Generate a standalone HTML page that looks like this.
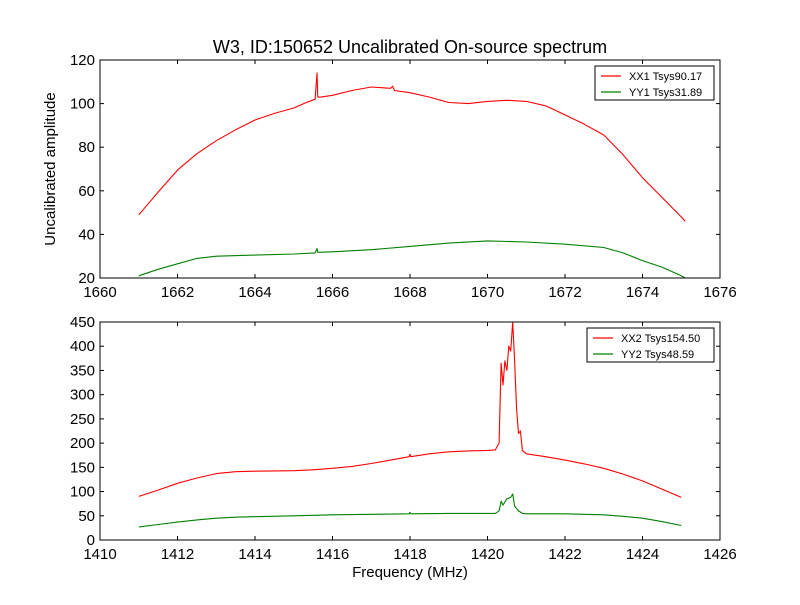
<!DOCTYPE html>
<html><head><meta charset="utf-8"><style>
body{margin:0;background:#fff}
svg{font-family:"Liberation Sans","DejaVu Sans",sans-serif}
</style></head><body>
<svg id="c" width="800" height="600" viewBox="0 0 800 600" xmlns="http://www.w3.org/2000/svg">
<rect width="800" height="600" fill="#fff"/>
<text x="410" y="53" text-anchor="middle" font-size="18">W3, ID:150652 Uncalibrated On-source spectrum</text>
<text x="0" y="0" transform="translate(55,169) rotate(-90)" text-anchor="middle" font-size="15">Uncalibrated amplitude</text>
<text x="410" y="577" text-anchor="middle" font-size="15">Frequency (MHz)</text>
</svg>
<script>
const topXX1x=[1661,1661.5,1662,1662.5,1663,1663.5,1664,1664.5,1665,1665.3,1665.55,1665.6,1665.62,1665.7,1666,1666.5,1667,1667.5,1667.55,1667.6,1668,1668.5,1669,1669.5,1670,1670.5,1671,1671.5,1672,1672.5,1673,1673.5,1674,1674.5,1675,1675.1];
const topXX1y=[49,59.4,69.5,77,83,88,92.5,95.5,98,100.3,102,114,103,103,103.8,106,107.6,107,108,106,105,103,100.5,100,101,101.5,101,99,94.8,90.5,85.6,76.5,66,57,48,46];
const topYY1x=[1661,1661.5,1662,1662.5,1663,1664,1665,1665.55,1665.6,1665.62,1666,1667,1668,1669,1670,1671,1672,1673,1673.5,1674,1674.5,1675,1675.1];
const topYY1y=[21,24,26.5,29,30,30.5,31,31.5,33.5,31.8,32,33,34.5,36,37,36.5,35.5,34,31.5,28,25,21,20];
const botXX2x=[1411,1411.5,1412,1412.5,1413,1413.5,1414,1415,1415.5,1416,1416.5,1417,1417.5,1417.98,1418,1418.02,1418.5,1419,1419.5,1420,1420.2,1420.3,1420.35,1420.4,1420.45,1420.5,1420.55,1420.6,1420.65,1420.7,1420.75,1420.8,1420.85,1420.9,1421,1421.5,1422,1422.5,1423,1423.5,1424,1424.5,1425];
const botXX2y=[90,103,117,128,137,141,142,143,145,148,152,158,165,172,177,172,178,182,184,185,186,200,365,320,370,350,400,390,450,370,270,220,225,185,178,172,165,157,148,136,122,105,88];
const botYY2x=[1411,1411.5,1412,1412.5,1413,1413.5,1414,1415,1416,1417,1417.98,1418,1418.02,1419,1420.2,1420.3,1420.35,1420.4,1420.5,1420.6,1420.65,1420.7,1420.8,1420.9,1421,1422,1423,1423.5,1424,1424.5,1425];
const botYY2y=[27,32,37,41.5,45,47,48,50,52,53,54,57,54,55,55,60,80,72,85,88,95,70,60,55,54,54,52,49,45,38,30];
const topXTicks=[1660,1662,1664,1666,1668,1670,1672,1674,1676];
const topYTicks=[20,40,60,80,100,120];
const botXTicks=[1410,1412,1414,1416,1418,1420,1422,1424,1426];
const botYTicks=[0,50,100,150,200,250,300,350,400,450];
const topLegend=["XX1 Tsys90.17","YY1 Tsys31.89"];
const botLegend=["XX2 Tsys154.50","YY2 Tsys48.59"];

const svg=document.getElementById('c');
const NS="http://www.w3.org/2000/svg";
function mk(tag,attrs,parent){const e=document.createElementNS(NS,tag);for(const k in attrs)e.setAttribute(k,attrs[k]);(parent||svg).appendChild(e);return e;}

function panel(name,top,xmin,xmax,ymin,ymax,xt,yt,series,legend,legW){
  const L=100,R=720,T=top,B=top+218;
  const g=mk('g',{});
  
  
  const sx=v=>L+(v-xmin)/(xmax-xmin)*(R-L);
  const sy=v=>B-(v-ymin)/(ymax-ymin)*(B-T);
  const clip=mk('clipPath',{id:'cl'+name},g);
  mk('rect',{x:L,y:T,width:R-L,height:B-T},clip);
  series.forEach(s=>{
    const d=s.x.map((v,i)=>(i?'L':'M')+sx(v).toFixed(1)+','+sy(s.y[i]).toFixed(1)).join('');
    const p=mk('path',{d:d,fill:'none',stroke:s.c,'stroke-width':1.1,'stroke-linejoin':'round','clip-path':'url(#cl'+name+')'},g);
    
    
  });
  const fr=mk('rect',{x:L,y:T,width:R-L,height:B-T,fill:'none',stroke:'#000','stroke-width':1},g);
  
  
  xt.forEach(v=>{
    const x=sx(v);
    mk('line',{x1:x,y1:B,x2:x,y2:B-4,stroke:'#000'},g);
    mk('line',{x1:x,y1:T,x2:x,y2:T+4,stroke:'#000'},g);
    const t=mk('text',{x:x,y:B+19,'text-anchor':'middle','font-size':15},g);
    t.textContent=v;
    
    
  });
  yt.forEach(v=>{
    const y=sy(v);
    mk('line',{x1:L,y1:y,x2:L+4,y2:y,stroke:'#000'},g);
    mk('line',{x1:R,y1:y,x2:R-4,y2:y,stroke:'#000'},g);
    const t=mk('text',{x:L-5,y:y+5,'text-anchor':'end','font-size':15},g);
    t.textContent=v;
    
    
  });
  const lg=mk('g',{},g);
  
  
  const lx=R-6-legW, ly=T+6;
  mk('rect',{x:lx,y:ly,width:legW,height:34,fill:'#fff',stroke:'#000'},lg);
  legend.forEach((lab,i)=>{
    const yy=ly+10+i*16;
    mk('line',{x1:lx+6,y1:yy,x2:lx+26,y2:yy,stroke:series[i].c,'stroke-width':1.2},lg);
    const t=mk('text',{x:lx+34,y:yy+4,'font-size':11},lg);
    t.textContent=lab;
    
    
  });
}
panel('top',60,1660,1676,20,120,topXTicks,topYTicks,
  [{x:topXX1x,y:topXX1y,c:'#ff0000',n:'xx1-line'},{x:topYY1x,y:topYY1y,c:'#008000',n:'yy1-line'}],topLegend,119);
panel('bottom',322,1410,1426,0,450,botXTicks,botYTicks,
  [{x:botXX2x,y:botXX2y,c:'#ff0000',n:'xx2-line'},{x:botYY2x,y:botYY2y,c:'#008000',n:'yy2-line'}],botLegend,127);
</script>
</body></html>
